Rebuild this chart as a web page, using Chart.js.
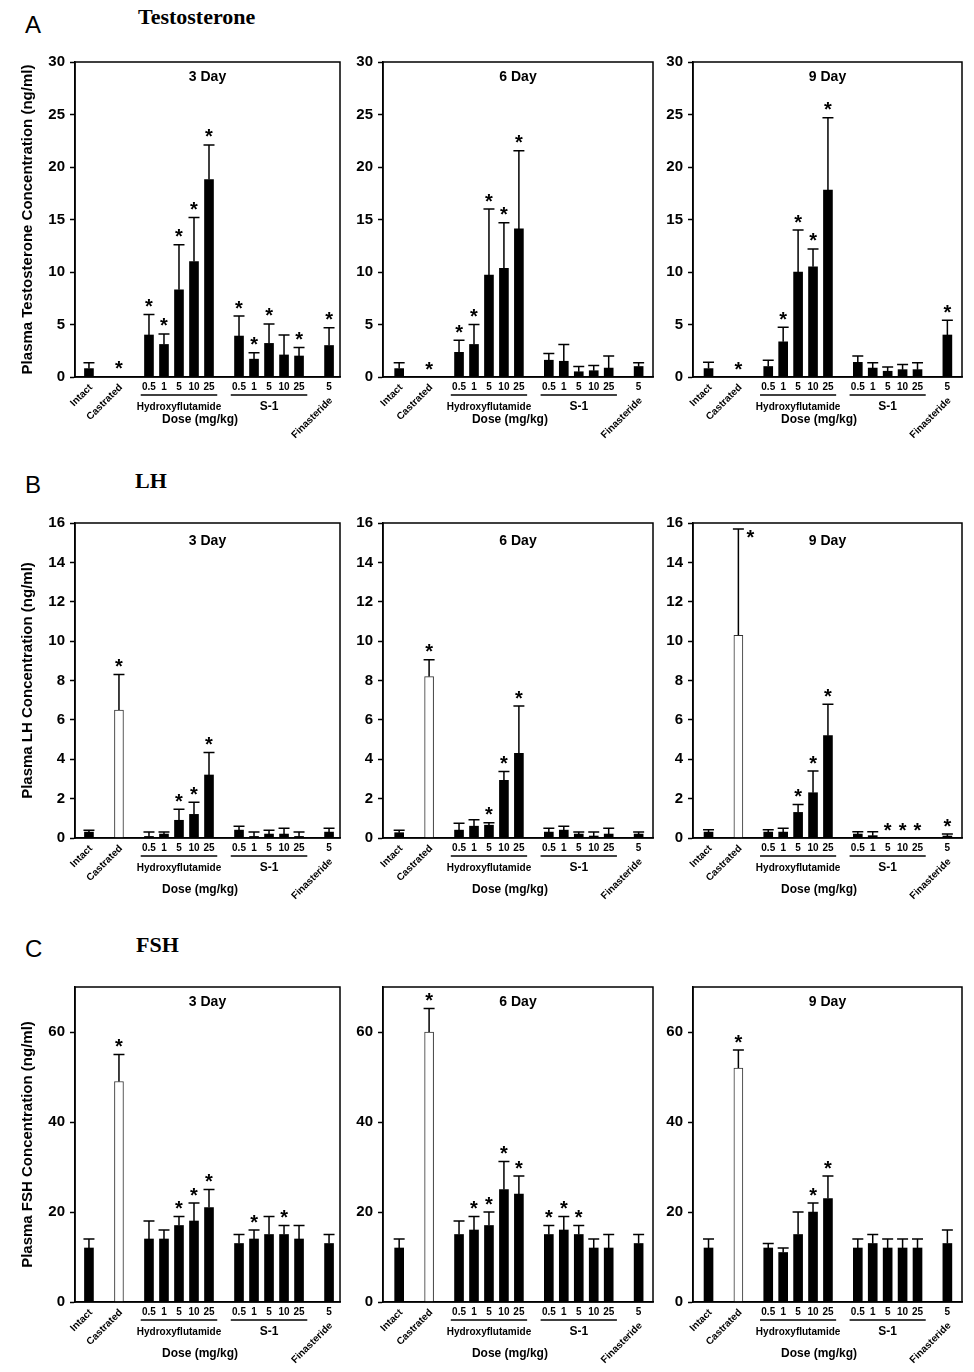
<!DOCTYPE html>
<html>
<head>
<meta charset="utf-8">
<script src="https://cdn.jsdelivr.net/npm/chart.js@4.4.1/dist/chart.umd.min.js"></script>
<style>
  body { margin: 0; background: #fff; width: 974px; height: 1372px; position: relative; overflow: hidden; }
  .panel { position: absolute; }
  .letter { position: absolute; font-family: "Liberation Sans", Arial, sans-serif; font-size: 24px; line-height: 24px; color: #000; }
  .hormone { position: absolute; font-family: "Liberation Serif", "Times New Roman", serif; font-weight: bold; font-size: 22px; line-height: 22px; color: #000; }
</style>
</head>
<body>
<div class="letter" style="left:25px;top:13px">A</div>
<div class="hormone" style="left:138px;top:6px">Testosterone</div>
<div class="letter" style="left:25px;top:473px">B</div>
<div class="hormone" style="left:135px;top:470px">LH</div>
<div class="letter" style="left:25px;top:937px">C</div>
<div class="hormone" style="left:136px;top:934px">FSH</div>

<script>
// categories along the x axis
const groupNames = ['Intact', 'Castrated', 'Hydroxyflutamide', 'S-1', 'Finasteride'];
const groupOf = [0, 1, 2, 2, 2, 2, 2, 3, 3, 3, 3, 3, 4];
const doseLabels = ['', '', '0.5', '1', '5', '10', '25', '0.5', '1', '5', '10', '25', '5'];
const dayLabels = ['3 Day', '6 Day', '9 Day'];

// testosterone (ng/ml), mean / error / significance
const testo3Mean = [0.8, 0.05, 4.0, 3.1, 8.3, 11.0, 18.8, 3.9, 1.7, 3.2, 2.1, 2.0, 3.0];
const testo3Err = [0.55, 0, 1.95, 1.0, 4.3, 4.2, 3.3, 1.9, 0.6, 1.85, 1.9, 0.8, 1.7];
const testo3Sig = [0, 1, 1, 1, 1, 1, 1, 1, 1, 1, 0, 1, 1];
const testo6Mean = [0.8, 0, 2.35, 3.1, 9.7, 10.35, 14.1, 1.6, 1.5, 0.5, 0.6, 0.85, 1.0];
const testo6Err = [0.55, 0, 1.15, 1.9, 6.3, 4.35, 7.45, 0.65, 1.6, 0.5, 0.5, 1.15, 0.35];
const testo6Sig = [0, 1, 1, 1, 1, 1, 1, 0, 0, 0, 0, 0, 0];
const testo9Mean = [0.8, 0, 1.0, 3.35, 10.0, 10.5, 17.8, 1.4, 0.85, 0.55, 0.7, 0.7, 4.0];
const testo9Err = [0.6, 0, 0.6, 1.4, 4.0, 1.7, 6.9, 0.6, 0.5, 0.4, 0.5, 0.65, 1.4];
const testo9Sig = [0, 1, 0, 1, 1, 1, 1, 0, 0, 0, 0, 0, 1];

// LH (ng/ml)
const lh3Mean = [0.3, 6.5, 0.08, 0.2, 0.9, 1.2, 3.2, 0.4, 0.08, 0.2, 0.2, 0.08, 0.3];
const lh3Err = [0.1, 1.8, 0.22, 0.1, 0.56, 0.62, 1.14, 0.2, 0.22, 0.2, 0.3, 0.22, 0.2];
const lh3Sig = [0, 1, 0, 0, 1, 1, 1, 0, 0, 0, 0, 0, 0];
const lh6Mean = [0.27, 8.2, 0.4, 0.6, 0.65, 2.93, 4.3, 0.3, 0.4, 0.2, 0.1, 0.2, 0.2];
const lh6Err = [0.12, 0.85, 0.35, 0.33, 0.12, 0.45, 2.4, 0.2, 0.2, 0.1, 0.2, 0.3, 0.1];
const lh6Sig = [0, 1, 0, 0, 1, 1, 1, 0, 0, 0, 0, 0, 0];
const lh9Mean = [0.3, 10.3, 0.3, 0.3, 1.3, 2.3, 5.2, 0.2, 0.12, 0, 0, 0, 0.1];
const lh9Err = [0.12, 5.4, 0.12, 0.2, 0.4, 1.1, 1.6, 0.12, 0.2, 0, 0, 0, 0.1];
const lh9Sig = [0, 1, 0, 0, 1, 1, 1, 0, 0, 1, 1, 1, 1];

// FSH (ng/ml)
const fsh3Mean = [12, 49, 14, 14, 17, 18, 21, 13, 14, 15, 15, 14, 13];
const fsh3Err = [2, 6, 4, 2, 2, 4, 4, 2, 2, 4, 2, 3, 2];
const fsh3Sig = [0, 1, 0, 0, 1, 1, 1, 0, 1, 0, 1, 0, 0];
const fsh6Mean = [12, 60, 15, 16, 17, 25, 24, 15, 16, 15, 12, 12, 13];
const fsh6Err = [2, 5.2, 3, 3, 3, 6.2, 4, 2, 3, 2, 2, 3, 2];
const fsh6Sig = [0, 1, 0, 1, 1, 1, 1, 1, 1, 1, 0, 0, 0];
const fsh9Mean = [12, 52, 12, 11, 15, 20, 23, 12, 13, 12, 12, 12, 13];
const fsh9Err = [2, 4, 1, 1, 5, 2, 5, 2, 2, 2, 2, 2, 3];
const fsh9Sig = [0, 1, 0, 0, 0, 1, 1, 0, 0, 0, 0, 0, 0];

// y axis ticks
const testoTicks = { max: 30, step: 5 };
const lhTicks = { max: 16, step: 2 };
const fshTicks = { max: 70, step: 20 };

const hormones = [
    { yTitle: 'Plasma Testosterone Concentration (ng/ml)', ticks: testoTicks, hollow: false,
      means: [testo3Mean, testo6Mean, testo9Mean], errs: [testo3Err, testo6Err, testo9Err], sigs: [testo3Sig, testo6Sig, testo9Sig] },
    { yTitle: 'Plasma LH Concentration (ng/ml)', ticks: lhTicks, hollow: true,
      means: [lh3Mean, lh6Mean, lh9Mean], errs: [lh3Err, lh6Err, lh9Err], sigs: [lh3Sig, lh6Sig, lh9Sig] },
    { yTitle: 'Plasma FSH Concentration (ng/ml)', ticks: fshTicks, hollow: true,
      means: [fsh3Mean, fsh6Mean, fsh9Mean], errs: [fsh3Err, fsh6Err, fsh9Err], sigs: [fsh3Sig, fsh6Sig, fsh9Sig] }
];

// page layout (pixels)
const rows = [
    { top: 62, bottom: 377, canvasTop: 40, canvasH: 400, dayDy: 15, doseDy: 43 },
    { top: 523, bottom: 838, canvasTop: 500, canvasH: 405, dayDy: 18, doseDy: 52 },
    { top: 987, bottom: 1302, canvasTop: 965, canvasH: 405, dayDy: 15, doseDy: 52 }
];
const cols = [
    { left: 75, right: 340, canvasLeft: 0, canvasW: 345, xMin: -0.93, xMax: 16.73 },
    { left: 383, right: 653, canvasLeft: 345, canvasW: 313, xMin: -1.08, xMax: 16.96 },
    { left: 693, right: 962, canvasLeft: 658, canvasW: 316, xMin: -1.04, xMax: 16.98 }
];

const FONT = '"Liberation Sans", Arial, sans-serif';
Chart.defaults.font.family = FONT;
Chart.defaults.color = '#000';

// slot of each bar: one step inside a group, two between groups
const slotPos = [];
groupOf.forEach((g, i) => {
    if (i === 0) slotPos.push(0);
    else slotPos.push(slotPos[i - 1] + (g !== groupOf[i - 1] ? 2 : 1));
});

function decorPlugin(h, d, row, col) {
    const means = h.means[d], errs = h.errs[d], sigs = h.sigs[d];
    return {
        id: 'decor',
        afterDatasetsDraw(chart) {
            const ctx = chart.ctx;
            const xs = chart.scales.x, ys = chart.scales.y;
            const area = chart.chartArea;
            ctx.save();
            ctx.strokeStyle = '#000';
            ctx.fillStyle = '#000';
            ctx.lineWidth = 1.5;

            // error bars and stars
            means.forEach((m, i) => {
                const x = xs.getPixelForValue(slotPos[i]);
                const y0 = ys.getPixelForValue(m);
                const y1 = ys.getPixelForValue(m + errs[i]);
                if (errs[i] > 0) {
                    ctx.beginPath();
                    ctx.moveTo(x, y0);
                    ctx.lineTo(x, y1);
                    ctx.moveTo(x - 5.5, y1);
                    ctx.lineTo(x + 5.5, y1);
                    ctx.stroke();
                }
                if (sigs[i]) {
                    ctx.font = 'bold 20px ' + FONT;
                    ctx.textAlign = 'center';
                    ctx.textBaseline = 'alphabetic';
                    // no room above the bar: star goes beside the cap
                    if (y1 - 20 < area.top) ctx.fillText('*', x + 12, y1 + 15.5);
                    else ctx.fillText('*', x, y1 - 1.5);
                }
            });

            // box
            ctx.strokeRect(area.left, area.top, area.right - area.left, area.bottom - area.top);

            // panel title
            ctx.font = 'bold 14px ' + FONT;
            ctx.textAlign = 'center';
            ctx.textBaseline = 'middle';
            ctx.fillText(dayLabels[d], (area.left + area.right) / 2, area.top + row.dayDy);

            // x axis labels
            const base = area.bottom;
            ctx.font = 'bold 10px ' + FONT;
            doseLabels.forEach((lab, i) => {
                if (lab) ctx.fillText(lab, xs.getPixelForValue(slotPos[i]), base + 10);
            });
            groupNames.forEach((name, g) => {
                const idx = groupOf.map((v, i) => v === g ? i : -1).filter(i => i >= 0);
                const first = slotPos[idx[0]], last = slotPos[idx[idx.length - 1]];
                if (idx.length > 1) {
                    ctx.beginPath();
                    ctx.moveTo(xs.getPixelForValue(first - 0.55), base + 18);
                    ctx.lineTo(xs.getPixelForValue(last + 0.55), base + 18);
                    ctx.stroke();
                    ctx.font = (name === 'S-1' ? 'bold 12px ' : 'bold 10px ') + FONT;
                    ctx.textAlign = 'center';
                    ctx.fillText(name, xs.getPixelForValue((first + last) / 2), base + 30);
                } else {
                    const x = xs.getPixelForValue(first);
                    const dy = doseLabels[idx[0]] ? 22 : 9;
                    ctx.save();
                    ctx.translate(x + 2, base + dy);
                    ctx.rotate(-Math.PI / 4);
                    ctx.font = 'bold 10px ' + FONT;
                    ctx.textAlign = 'right';
                    ctx.fillText(name, 0, 0);
                    ctx.restore();
                }
            });
            ctx.font = 'bold 12px ' + FONT;
            ctx.textAlign = 'center';
            ctx.fillText('Dose (mg/kg)', xs.getPixelForValue(7.4), base + row.doseDy);

            // y axis title, first column only
            if (col.canvasLeft === 0) {
                ctx.save();
                ctx.translate(28, (area.top + area.bottom) / 2);
                ctx.rotate(-Math.PI / 2);
                ctx.font = 'bold 15px ' + FONT;
                ctx.fillText(h.yTitle, 0, 0);
                ctx.restore();
            }
            ctx.restore();
        }
    };
}

hormones.forEach((h, r) => {
    const row = rows[r];
    dayLabels.forEach((day, d) => {
        const col = cols[d];
        const wrap = document.createElement('div');
        wrap.className = 'panel';
        wrap.style.left = col.canvasLeft + 'px';
        wrap.style.top = row.canvasTop + 'px';
        const canvas = document.createElement('canvas');
        canvas.width = col.canvasW;
        canvas.height = row.canvasH;
        wrap.appendChild(canvas);
        document.body.appendChild(wrap);

        const means = h.means[d];
        const hollowAt = i => h.hollow && groupNames[groupOf[i]] === 'Castrated';

        new Chart(canvas, {
            type: 'bar',
            data: {
                datasets: [{
                    data: means.map((m, i) => ({ x: slotPos[i], y: m })),
                    backgroundColor: means.map((m, i) => hollowAt(i) ? '#fff' : '#000'),
                    borderColor: '#333',
                    borderWidth: means.map((m, i) => hollowAt(i) ? 1 : 0),
                    barThickness: 9
                }]
            },
            options: {
                responsive: false,
                animation: false,
                devicePixelRatio: 1,
                layout: {
                    padding: {
                        top: row.top - row.canvasTop,
                        right: col.canvasLeft + col.canvasW - col.right,
                        left: 0,
                        bottom: 0
                    }
                },
                plugins: { legend: { display: false }, tooltip: { enabled: false } },
                scales: {
                    x: {
                        type: 'linear',
                        min: col.xMin,
                        max: col.xMax,
                        offset: false,
                        ticks: { display: false },
                        grid: { display: false },
                        border: { display: true, color: '#000', width: 1.5 },
                        afterFit: s => { s.height = row.canvasTop + row.canvasH - row.bottom; }
                    },
                    y: {
                        min: 0,
                        max: h.ticks.max,
                        ticks: {
                            stepSize: h.ticks.step,
                            includeBounds: false,
                            font: { size: 15, weight: 'bold' },
                            color: '#000',
                            padding: 5
                        },
                        grid: { drawOnChartArea: false, drawTicks: true, tickLength: 5, tickWidth: 1.5, tickColor: '#000' },
                        border: { display: true, color: '#000', width: 1.5 },
                        afterFit: s => { s.width = col.left - col.canvasLeft; }
                    }
                }
            },
            plugins: [decorPlugin(h, d, row, col)]
        });
    });
});
</script>
</body>
</html>
